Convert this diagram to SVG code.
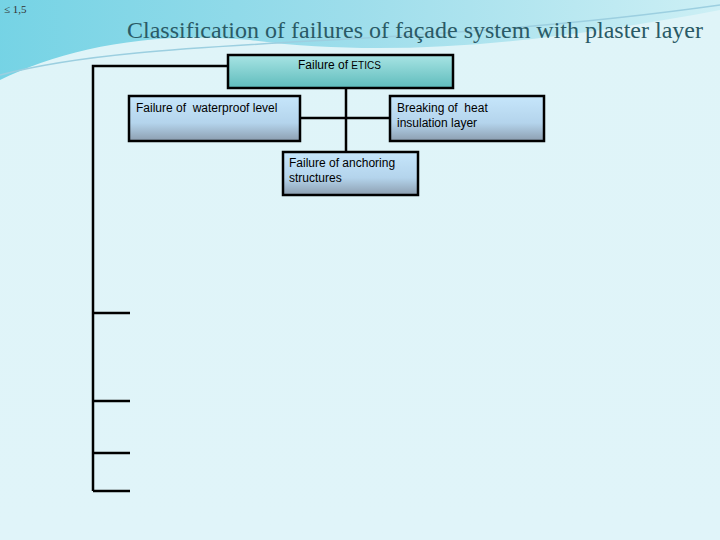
<svg xmlns="http://www.w3.org/2000/svg" width="720" height="540" viewBox="0 0 720 540">
<defs>
<linearGradient id="bg" x1="0" y1="0" x2="0" y2="1"><stop offset="0" stop-color="#dff4f8"/><stop offset="1" stop-color="#e0f4f9"/></linearGradient>
<linearGradient id="top" x1="0" y1="0" x2="1" y2="0"><stop offset="0" stop-color="#5bcbe0"/><stop offset="0.5" stop-color="#8ed8e8"/><stop offset="1" stop-color="#c8eef4"/></linearGradient>
<linearGradient id="teal" x1="0" y1="0" x2="0" y2="1"><stop offset="0" stop-color="#a8e4e4"/><stop offset="1" stop-color="#5fbcbc"/></linearGradient>
<linearGradient id="blue" x1="0" y1="0" x2="0" y2="1"><stop offset="0" stop-color="#c6e6fb"/><stop offset="0.6" stop-color="#b4d4ec"/><stop offset="1" stop-color="#8c9eb0"/></linearGradient>
<style>
.box{stroke:#000;stroke-width:2.5}
.t{font-family:"Liberation Sans",Arial,sans-serif;font-size:12px;fill:#000}
.c{stroke:#000;stroke-width:2.5;fill:none}
</style>
</defs>
<rect width="720" height="540" fill="url(#bg)"/>
<path d="M0 0H720V10C560 40 400 60 250 40C150 30 60 50 0 80Z" fill="url(#top)" opacity="0.8"/>
<path d="M0 75C150 35 400 50 720 5" stroke="#9ccfe0" stroke-width="1.5" fill="none"/>
<text x="4" y="13" font-family="Liberation Serif,serif" font-size="11" fill="#333">≤ 1,5</text>
<text x="127" y="38" textLength="576" lengthAdjust="spacingAndGlyphs" font-family="Liberation Serif,serif" font-size="23" fill="#2a5a66">Classification of failures of façade system with plaster layer</text>
<g id="connectors">
<path class="c" d="M228 66H93V491"/>
<path class="c" d="M93 313H130M93 401H130M93 453H130M93 491H130"/>
<path class="c" d="M346 88V152M300 118H390"/>
</g>
<g id="n1"><rect class="box" x="228" y="55" width="225" height="33" fill="url(#teal)"/><text class="t" x="298" y="69">Failure of <tspan font-size="10">ETICS</tspan></text></g>
<g id="n2"><rect class="box" x="129" y="96" width="171" height="45" fill="url(#blue)"/><text class="t" x="136" y="112" xml:space="preserve">Failure of  waterproof level</text></g>
<g id="n3"><rect class="box" x="390" y="96" width="154" height="45" fill="url(#blue)"/><text class="t" x="397" y="112" xml:space="preserve">Breaking of  heat</text><text class="t" x="397" y="127">insulation layer</text></g>
<g id="n4"><rect class="box" x="283" y="152" width="135" height="43" fill="url(#blue)"/><text class="t" x="289" y="167">Failure of anchoring</text><text class="t" x="289" y="182">structures</text></g>
</svg>
